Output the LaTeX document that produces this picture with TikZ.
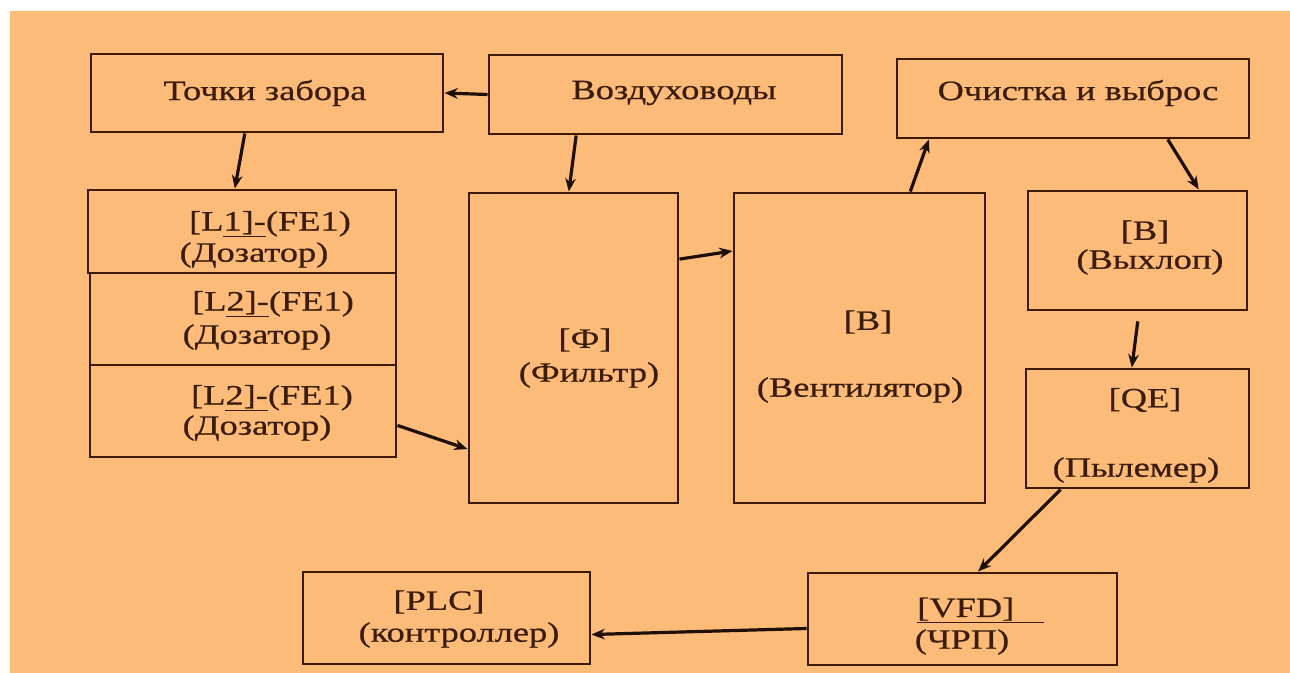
\documentclass[tikz,border=0pt]{standalone}
\usepackage{fontspec}
\setmainfont{Liberation Serif}[FakeStretch=1.3,FakeBold=0.6]
\usetikzlibrary{arrows.meta,fit,calc}
\definecolor{bg}{HTML}{FDBB7A}
\definecolor{edge}{HTML}{3D1A05}
\definecolor{ink}{HTML}{3A1C08}
\definecolor{arrowc}{HTML}{1E0E04}
\begin{document}
\begin{tikzpicture}[x=0.75pt,y=-0.75pt,
  box/.style={draw=edge, line width=2.2pt, fill=bg, inner sep=0pt},
  lbl/.style={text=ink, font=\fontsize{21}{24}\selectfont, inner sep=0pt},
  arr/.style={draw=arrowc, line width=2.4pt, -{Stealth[length=10pt,width=8pt]}}]
\useasboundingbox (0,0) rectangle (1290,673);
\fill[white] (0,0) rectangle (1290,673);
\fill[bg] (10,11) rectangle (1290,673);

% boxes
\node[box, fit={(91,54)(443,132)}] (tz) {};
\node[box, fit={(489,55)(842,134)}] (vz) {};
\node[box, fit={(897,59)(1249,138)}] (oc) {};
\node[box, fit={(88,190)(396,273)}] (d1) {};
\node[box, fit={(90,273)(396,365)}] (d2) {};
\node[box, fit={(90,365)(396,457)}] (d3) {};
\node[box, fit={(469,193)(678,503)}] (flt) {};
\node[box, fit={(734,193)(985,503)}] (fan) {};
\node[box, fit={(1028,191)(1247,310)}] (vyh) {};
\node[box, fit={(1026,369)(1249,488)}] (qe) {};
\node[box, fit={(808,573)(1117,665)}] (vfd) {};
\node[box, fit={(303,572)(590,664)}] (plc) {};

% texts
\node[lbl] (t1) at (265,93) {Точки забора};
\node[lbl] (t2) at (674,93) {Воздуховоды};
\node[lbl] (t3) at (1078,93) {Очистка и выброс};
\node[lbl] (t4) at (270,224) {[L\underline{1]-}(FE1)};
\node[lbl] (t5) at (254,255) {(Дозатор)};
\node[lbl] (t6) at (273,304) {[L\underline{2]-}(FE1)};
\node[lbl] (t7) at (257,337) {(Дозатор)};
\node[lbl] (t8) at (272,398) {[L\underline{2]-}(FE1)};
\node[lbl] (t9) at (257,428) {(Дозатор)};
\node[lbl] (t10) at (585,340) {[Ф]};
\node[lbl] (t11) at (589,375) {(Фильтр)};
\node[lbl] (t12) at (868,322) {[B]};
\node[lbl] (t13) at (860,390) {(Вентилятор)};
\node[lbl] (t14) at (1145,232) {[B]};
\node[lbl] (t15) at (1150,262) {(Выхлоп)};
\node[lbl] (t16) at (1145,400) {[QE]};
\node[lbl] (t17) at (1136,470) {(Пылемер)};
\node[lbl, anchor=base west] (t18) at (917,617) {\underline{[VFD]\hspace{22pt}}};
\node[lbl] (t19) at (962,642) {(ЧРП)};
\node[lbl] (t20) at (439,602) {[PLC]};
\node[lbl] (t21) at (459,635) {(контроллер)};

% arrows
\draw[arr] (vz.west) -- (tz.east);
\draw[arr] ($(tz.south west)!0.4375!(tz.south east)$) -- ($(d1.north west)!0.477!(d1.north east)$);
\draw[arr] ($(vz.south west)!0.249!(vz.south east)$) -- ($(flt.north west)!0.478!(flt.north east)$);
\draw[arr] ($(flt.north east)!0.216!(flt.south east)$) -- ($(fan.north west)!0.19!(fan.south west)$);
\draw[arr] ($(fan.north west)!0.70!(fan.north east)$) -- ($(oc.south west)!0.094!(oc.south east)$);
\draw[arr] ($(oc.south west)!0.767!(oc.south east)$) -- ($(vyh.north west)!0.776!(vyh.north east)$);
\draw[arr, shorten <=7.5pt] ($(vyh.south west)!0.507!(vyh.south east)$) -- ($(qe.north west)!0.475!(qe.north east)$);
\draw[arr] ($(qe.south west)!0.16!(qe.south east)$) -- ($(vfd.north west)!0.55!(vfd.north east)$);
\draw[arr] ($(vfd.north west)!0.6!(vfd.south west)$) -- ($(plc.north east)!0.674!(plc.south east)$);
\draw[arr] ($(d3.north east)!0.652!(d3.south east)$) -- ($(flt.north west)!0.823!(flt.south west)$);
\end{tikzpicture}
\end{document}
